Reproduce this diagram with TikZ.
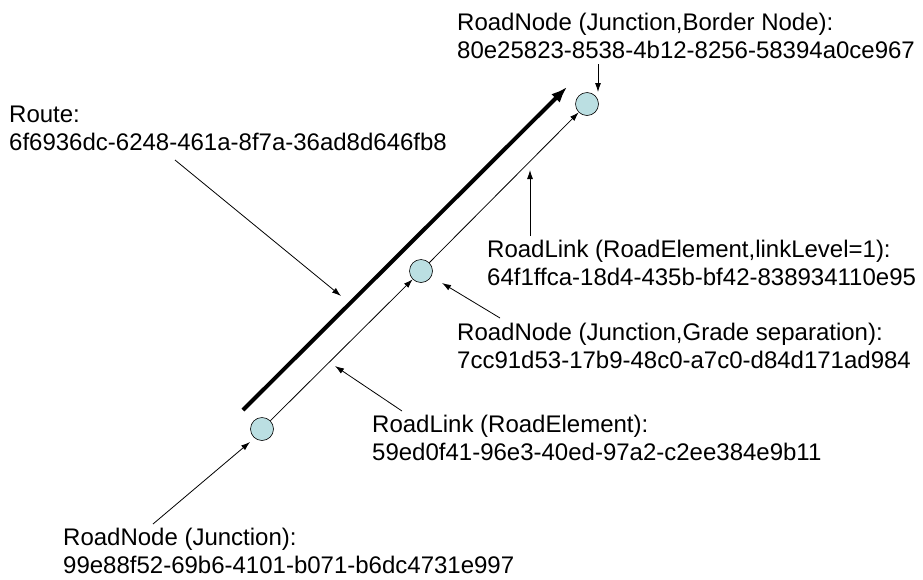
\documentclass[tikz,border=0pt]{standalone}
\usepackage{fontspec}
\setmainfont{Liberation Sans}
\usetikzlibrary{arrows.meta}
\definecolor{nodefill}{RGB}{187,223,226}

\begin{document}
\begin{tikzpicture}[x=1pt,y=-1pt,
  rnode/.style={circle,draw=black,fill=nodefill,minimum size=23pt,inner sep=0pt,line width=0.6pt},
  lbl/.style={anchor=base west,align=left,inner sep=0pt,font=\fontsize{24}{28}\selectfont},
  pnt/.style={-{Latex[length=9pt,width=6pt]},line width=0.8pt}]
\useasboundingbox (0,0) rectangle (923,579);

% road nodes
\node[rnode] (n1) at (262,429) {};
\node[rnode] (n2) at (421,271) {};
\node[rnode] (n3) at (587,104) {};

% road links
\draw[pnt] (n1) -- (n2);
\draw[pnt] (n2) -- (n3);

% the route
\coordinate (r0) at (243,410);
\coordinate (r1) at (567,87);
\draw[line width=4pt,-{Latex[length=16pt,width=12pt]}] (r0) -- (r1);

% labels (anchored on the baseline of the lower line)
\node[lbl] (ltop) at (457,58) {RoadNode (Junction,Border Node):\\80e25823-8538-4b12-8256-58394a0ce967};
\node[lbl] (lroute) at (9,150) {Route:\\6f6936dc-6248-461a-8f7a-36ad8d646fb8};
\node[lbl] (llink2) at (487,285) {RoadLink (RoadElement,linkLevel=1):\\64f1ffca-18d4-435b-bf42-838934110e95};
\node[lbl] (lgrade) at (457,368) {RoadNode (Junction,Grade separation):\\7cc91d53-17b9-48c0-a7c0-d84d171ad984};
\node[lbl] (llink1) at (372,460) {RoadLink (RoadElement):\\59ed0f41-96e3-40ed-97a2-c2ee384e9b11};
\node[lbl] (ljunc) at (63,573) {RoadNode (Junction):\\99e88f52-69b6-4101-b071-b6dc4731e997};

% pointers from the labels
\coordinate (ptop) at (598,64);   \coordinate (ttop) at (598,92);
\coordinate (proute) at (175,160); \coordinate (troute) at (341,296);
\coordinate (plink2) at (530,236); \coordinate (tlink2) at (530,170);
\coordinate (pgrade) at (500,318); \coordinate (tgrade) at (442,283);
\coordinate (plink1) at (402,411); \coordinate (tlink1) at (335,366);
\coordinate (pjunc) at (153,524);  \coordinate (tjunc) at (250,442);
\draw[pnt] (ptop) -- (ttop);
\draw[pnt] (proute) -- (troute);
\draw[pnt] (plink2) -- (tlink2);
\draw[pnt] (pgrade) -- (tgrade);
\draw[pnt] (plink1) -- (tlink1);
\draw[pnt] (pjunc) -- (tjunc);
\end{tikzpicture}
\end{document}
